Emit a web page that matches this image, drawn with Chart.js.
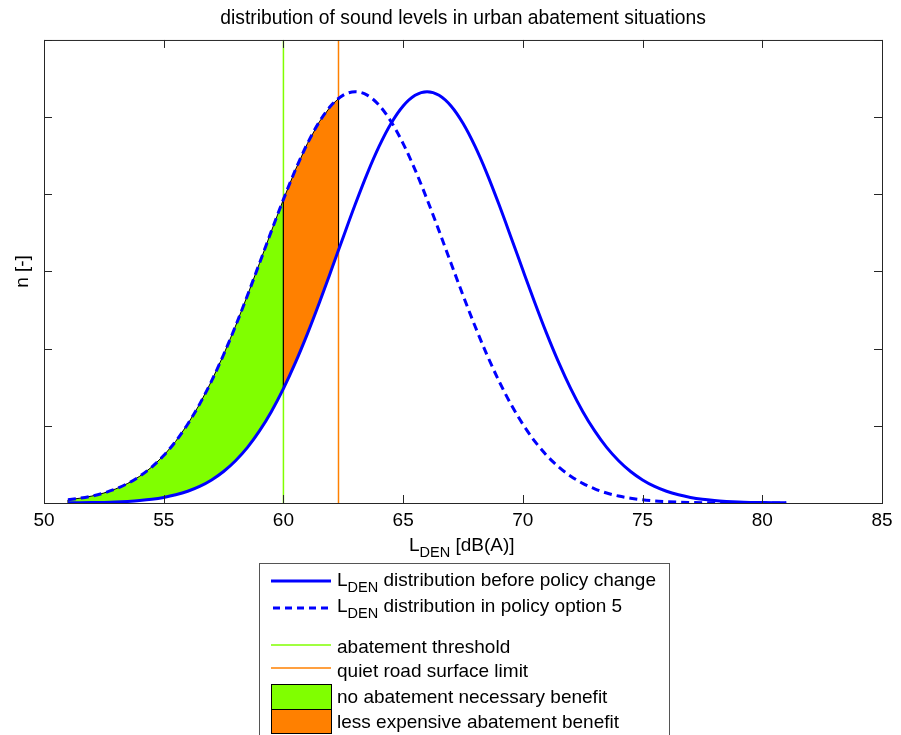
<!DOCTYPE html>
<html>
<head>
<meta charset="utf-8">
<script src="https://cdn.jsdelivr.net/npm/chart.js@4/dist/chart.umd.min.js"></script>
<style>
  body { margin: 0; background: #fff; overflow: hidden; }
  #wrap { position: relative; width: 901px; height: 735px; background: #fff; font-family: "Liberation Sans", Arial, sans-serif; }
  #chart { position: absolute; left: 0; top: 0; }
  .txt { position: absolute; font-size: 19px; line-height: 1; white-space: nowrap; color: #000; }
  .sub { position: relative; top: 6px; font-size: 14.5px; }
  #legend { position: absolute; left: 259px; top: 563px; width: 409px; height: 200px; border: 1px solid #555; background: #fff; }
  #swatches { position: absolute; left: 0; top: 0; }
</style>
</head>
<body>
<div id="wrap">
  <canvas id="chart" width="901" height="735"></canvas>
  <div class="txt" style="left:409px;top:535px">L<span class="sub">DEN</span> [dB(A)]</div>
  <div id="legend"></div>
  <svg id="swatches" width="901" height="735">
    <line x1="271" y1="581" x2="331" y2="581" stroke="#0000ff" stroke-width="3"/>
    <line x1="273" y1="608" x2="331" y2="608" stroke="#0000ff" stroke-width="3" stroke-dasharray="7,5"/>
    <line x1="271" y1="645" x2="331" y2="645" stroke="#80ff00" stroke-width="1.5"/>
    <line x1="271" y1="668" x2="331" y2="668" stroke="#ff8000" stroke-width="1.5"/>
    <rect x="271.5" y="684.5" width="60" height="25" fill="#80ff00" stroke="#000" stroke-width="1"/>
    <rect x="271.5" y="709.5" width="60" height="24" fill="#ff8000" stroke="#000" stroke-width="1"/>
  </svg>
  <div class="txt" style="left:337px;top:570px">L<span class="sub">DEN</span> distribution before policy change</div>
  <div class="txt" style="left:337px;top:596px">L<span class="sub">DEN</span> distribution in policy option 5</div>
  <div class="txt" style="left:337px;top:637px">abatement threshold</div>
  <div class="txt" style="left:337px;top:661px">quiet road surface limit</div>
  <div class="txt" style="left:337px;top:687px">no abatement necessary benefit</div>
  <div class="txt" style="left:337px;top:712px">less expensive abatement benefit</div>
</div>
<script>
// sound level grid [dB(A)]
const xLevels = [51, 51.5, 52, 52.5, 53, 53.5, 54, 54.5, 55, 55.5, 56, 56.5, 57, 57.5, 58, 58.5, 59, 59.5,
  60, 60.5, 61, 61.5, 62, 62.5, 63, 63.5, 64, 64.5, 65, 65.5, 66, 66.5, 67, 67.5, 68, 68.5, 69, 69.5,
  70, 70.5, 71, 71.5, 72, 72.5, 73, 73.5, 74, 74.5, 75, 75.5, 76, 76.5, 77, 77.5, 78, 78.5, 79, 79.5,
  80, 80.5, 81];

// distribution before policy change (solid)
const nBefore = [0.002, 0.003, 0.005, 0.008, 0.013, 0.021, 0.032, 0.048, 0.072, 0.106, 0.152, 0.215, 0.299, 0.408,
  0.548, 0.721, 0.934, 1.187, 1.482, 1.818, 2.191, 2.595, 3.018, 3.448, 3.870, 4.268, 4.623, 4.920, 5.144, 5.283,
  5.330, 5.283, 5.144, 4.920, 4.623, 4.268, 3.870, 3.448, 3.018, 2.595, 2.191, 1.818, 1.482, 1.187, 0.934, 0.721,
  0.548, 0.408, 0.299, 0.215, 0.152, 0.106, 0.072, 0.048, 0.032, 0.021, 0.013, 0.008, 0.005, 0.003, 0.002];

// distribution in policy option 5 (dashed)
const nOption5 = [0.041, 0.062, 0.090, 0.129, 0.183, 0.254, 0.347, 0.466, 0.615, 0.799, 1.021, 1.281, 1.582, 1.921,
  2.293, 2.692, 3.107, 3.526, 3.934, 4.317, 4.657, 4.940, 5.153, 5.285, 5.330, 5.285, 5.153, 4.940, 4.657, 4.317,
  3.934, 3.526, 3.107, 2.692, 2.293, 1.921, 1.582, 1.281, 1.021, 0.799, 0.615, 0.466, 0.347, 0.254, 0.183, 0.129,
  0.090, 0.062, 0.041, 0.027, 0.018, 0.011, 0.007, 0.004, 0.003, 0.002, 0.001, 0.001, 0.001, 0.000, 0.000];

const xTickLabels = [50, 55, 60, 65, 70, 75, 80, 85];
const yTicks = [0, 1, 2, 3, 4, 5, 6];

const thresholdX = 60;      // abatement threshold
const limitX = 62.3;        // quiet road surface limit
const nBeforeAtLimit = 3.28;
const nOption5AtLimit = 5.24;

const beforePts = xLevels.map((x, i) => ({ x: x, y: nBefore[i] }));
const option5Pts = xLevels.map((x, i) => ({ x: x, y: nOption5[i] }));

// area between the two curves left of the threshold
const greenShape = option5Pts.filter(p => p.x <= thresholdX)
  .concat(beforePts.filter(p => p.x <= thresholdX).reverse());
greenShape.push(greenShape[0]);

// area between the two curves from threshold to quiet road limit
const orangeShape = option5Pts.filter(p => p.x >= thresholdX && p.x < limitX)
  .concat([{ x: limitX, y: nOption5AtLimit }, { x: limitX, y: nBeforeAtLimit }])
  .concat(beforePts.filter(p => p.x >= thresholdX && p.x < limitX).reverse());
orangeShape.push(orangeShape[0]);

const yMin = yTicks[0];
const yMax = yTicks[yTicks.length - 1];

// MATLAB style box with ticks pointing inwards
const boxTicks = {
  id: 'boxTicks',
  afterDraw(chart) {
    const { ctx, chartArea: a, scales } = chart;
    const len = 8;
    ctx.save();
    ctx.strokeStyle = '#262626';
    ctx.lineWidth = 1;
    ctx.beginPath();
    scales.x.ticks.forEach(t => {
      const px = Math.round(scales.x.getPixelForValue(t.value)) + 0.5;
      ctx.moveTo(px, a.bottom); ctx.lineTo(px, a.bottom - len);
      ctx.moveTo(px, a.top); ctx.lineTo(px, a.top + len);
    });
    scales.y.ticks.forEach(t => {
      const py = Math.round(scales.y.getPixelForValue(t.value)) + 0.5;
      ctx.moveTo(a.left, py); ctx.lineTo(a.left + len, py);
      ctx.moveTo(a.right, py); ctx.lineTo(a.right - len, py);
    });
    ctx.stroke();
    ctx.strokeRect(a.left + 0.5, a.top + 0.5, a.right - a.left, a.bottom - a.top);
    ctx.restore();
  }
};

const font = { family: '"Liberation Sans", Arial, sans-serif', size: 19, weight: 'normal' };

new Chart(document.getElementById('chart'), {
  type: 'scatter',
  data: {
    datasets: [
      {
        label: 'LDEN distribution before policy change',
        data: beforePts,
        showLine: true,
        cubicInterpolationMode: 'monotone',
        borderColor: '#0000ff',
        borderWidth: 3,
        pointRadius: 0,
        fill: false
      },
      {
        label: 'LDEN distribution in policy option 5',
        data: option5Pts,
        showLine: true,
        cubicInterpolationMode: 'monotone',
        borderColor: '#0000ff',
        borderWidth: 3,
        borderDash: [8, 5],
        pointRadius: 0,
        fill: false
      },
      {
        label: 'less expensive abatement benefit',
        data: orangeShape,
        showLine: true,
        borderColor: '#000',
        borderWidth: 1,
        backgroundColor: '#ff8000',
        pointRadius: 0,
        fill: 'shape'
      },
      {
        label: 'no abatement necessary benefit',
        data: greenShape,
        showLine: true,
        borderColor: '#000',
        borderWidth: 1,
        backgroundColor: '#80ff00',
        pointRadius: 0,
        fill: 'shape'
      },
      {
        label: 'quiet road surface limit',
        data: [{ x: limitX, y: yMin }, { x: limitX, y: yMax }],
        showLine: true,
        borderColor: '#ff8000',
        borderWidth: 1.5,
        pointRadius: 0,
        fill: false
      },
      {
        label: 'abatement threshold',
        data: [{ x: thresholdX, y: yMin }, { x: thresholdX, y: yMax }],
        showLine: true,
        borderColor: '#80ff00',
        borderWidth: 1.5,
        pointRadius: 0,
        fill: false
      }
    ]
  },
  options: {
    responsive: false,
    animation: false,
    devicePixelRatio: 1,
    layout: { padding: { left: 0, top: 0, right: 19, bottom: 0 } },
    plugins: {
      legend: { display: false },
      tooltip: { enabled: false },
      title: {
        display: true,
        fullSize: false,
        text: 'distribution of sound levels in urban abatement situations',
        color: '#000',
        font: { family: font.family, size: 19.3, weight: 'normal' },
        padding: { top: 7, bottom: 9.8 }
      }
    },
    scales: {
      x: {
        type: 'linear',
        min: xTickLabels[0],
        max: xTickLabels[xTickLabels.length - 1],
        afterBuildTicks: s => { s.ticks = xTickLabels.map(v => ({ value: v })); },
        afterFit: s => { s.height = 232; },
        grid: { display: false, drawTicks: false },
        border: { display: false },
        ticks: { color: '#000', font: font, padding: 6, maxRotation: 0 }
      },
      y: {
        min: yMin,
        max: yMax,
        afterBuildTicks: s => { s.ticks = yTicks.map(v => ({ value: v })); },
        afterFit: s => { s.width = 44; },
        grid: { display: false, drawTicks: false },
        border: { display: false },
        ticks: { display: false },
        title: { display: true, text: 'n [-]', color: '#000', font: font, padding: { top: 11, bottom: 0 } }
      }
    }
  },
  plugins: [boxTicks]
});
</script>
</body>
</html>
